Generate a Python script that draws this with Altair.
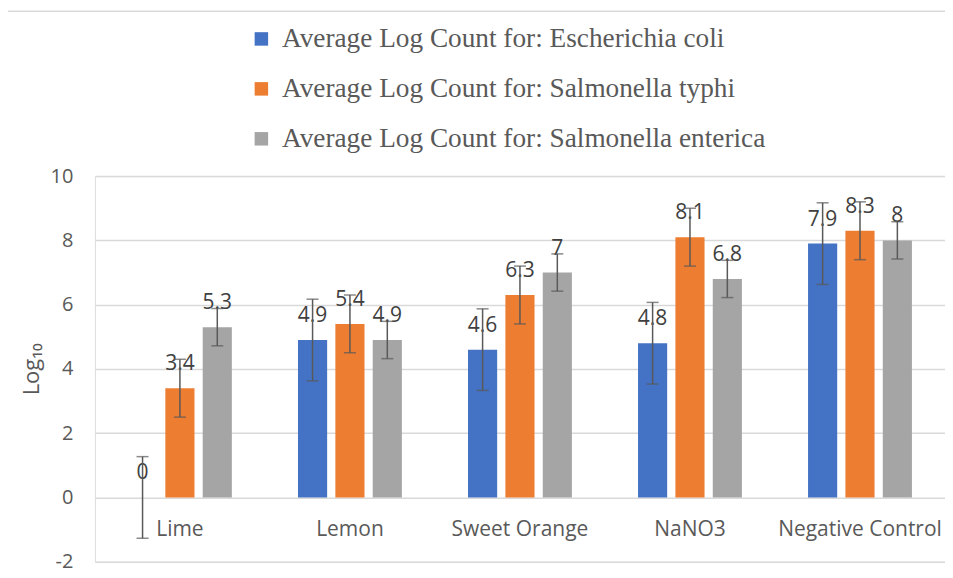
import altair as alt
import pandas as pd

categories = ["Lime", "Lemon", "Sweet Orange", "NaNO3", "Negative Control"]
series = [
    "Average Log Count for: Escherichia coli",
    "Average Log Count for: Salmonella typhi",
    "Average Log Count for: Salmonella enterica",
]
ecoli = [0, 4.9, 4.6, 4.8, 7.9]
styphi = [3.4, 5.4, 6.3, 8.1, 8.3]
senterica = [5.3, 4.9, 7, 6.8, 8]
errors = [1.27, 0.9, 0.58]
colors = ["#4472C4", "#ED7D31", "#A5A5A5"]
y_ticks = [-2, 0, 2, 4, 6, 8, 10]

rows = []
for s, vals, e in zip(series, [ecoli, styphi, senterica], errors):
    for c, v in zip(categories, vals):
        rows.append({"cat": c, "series": s, "value": v, "lo": v - e, "hi": v + e,
                     "label": f"{v:g}"})
df = pd.DataFrame(rows)

FONT = "Open Sans"
GREY = "#595959"

xenc = alt.X("cat:N", sort=categories,
             scale=alt.Scale(paddingInner=0.389, paddingOuter=0.1945),
             axis=alt.Axis(title=None, domain=False, ticks=False, labelAngle=0,
                           labelFont=FONT, labelFontSize=21, labelColor=GREY,
                           labelPadding=21, offset=-64))
xoff = alt.XOffset("series:N", sort=series,
                   scale=alt.Scale(paddingInner=0.22, paddingOuter=0))
yscale = alt.Scale(domain=[-2, 10], nice=False)

base = alt.Chart(df).encode(x=xenc, xOffset=xoff)

bars = base.mark_bar().encode(
    y=alt.Y("value:Q", scale=yscale,
            axis=alt.Axis(values=y_ticks, title="Log₁₀", grid=True, gridColor="#D9D9D9",
                          gridWidth=1.5, domain=False, ticks=False,
                          labelExpr="'' + datum.value",
                          labelFont=FONT, labelFontSize=20, labelColor=GREY,
                          labelPadding=22, titleFont=FONT, titleFontSize=22,
                          titleFontWeight="normal", titleColor=GREY, titlePadding=7)),
    color=alt.Color("series:N", sort=series,
                    scale=alt.Scale(domain=series, range=colors),
                    legend=alt.Legend(title=None, orient="none", legendX=153, legendY=-151,
                                      direction="vertical", columns=1,
                                      labelFont="Liberation Serif", labelFontSize=27.3,
                                      labelColor=GREY, labelLimit=800, labelOffset=7,
                                      symbolType="square", symbolSize=182,
                                      symbolStrokeWidth=0, rowPadding=22, padding=0)),
)

labels = base.mark_text(dy=-24, fontSize=21, font=FONT, color="#404040").encode(
    y=alt.Y("value:Q", scale=yscale), text="label:N")

err_rule = base.mark_rule(color=GREY, strokeWidth=1.5).encode(
    y=alt.Y("lo:Q", scale=yscale), y2="hi:Q")
cap_lo = base.mark_tick(size=12, thickness=1.5, color=GREY).encode(
    y=alt.Y("lo:Q", scale=yscale))
cap_hi = base.mark_tick(size=12, thickness=1.5, color=GREY).encode(
    y=alt.Y("hi:Q", scale=yscale))

border = alt.Chart(pd.DataFrame({"a": [0]})).mark_rect(
    fillOpacity=0, stroke="#D9D9D9", strokeWidth=1.5).encode(
    x=alt.value(-88), x2=alt.value(1000), y=alt.value(-165), y2=alt.value(700))

chart = alt.layer(border, bars, labels, err_rule, cap_lo, cap_hi).properties(
    width=851, height=386,
    padding={"left": 87, "top": 168, "right": 0, "bottom": 14},
    autosize=alt.AutoSizeParams(type="none"),
).configure_view(stroke=None).configure(background="white")

chart.save("out.html", embed_options={"renderer": "svg", "actions": False})
